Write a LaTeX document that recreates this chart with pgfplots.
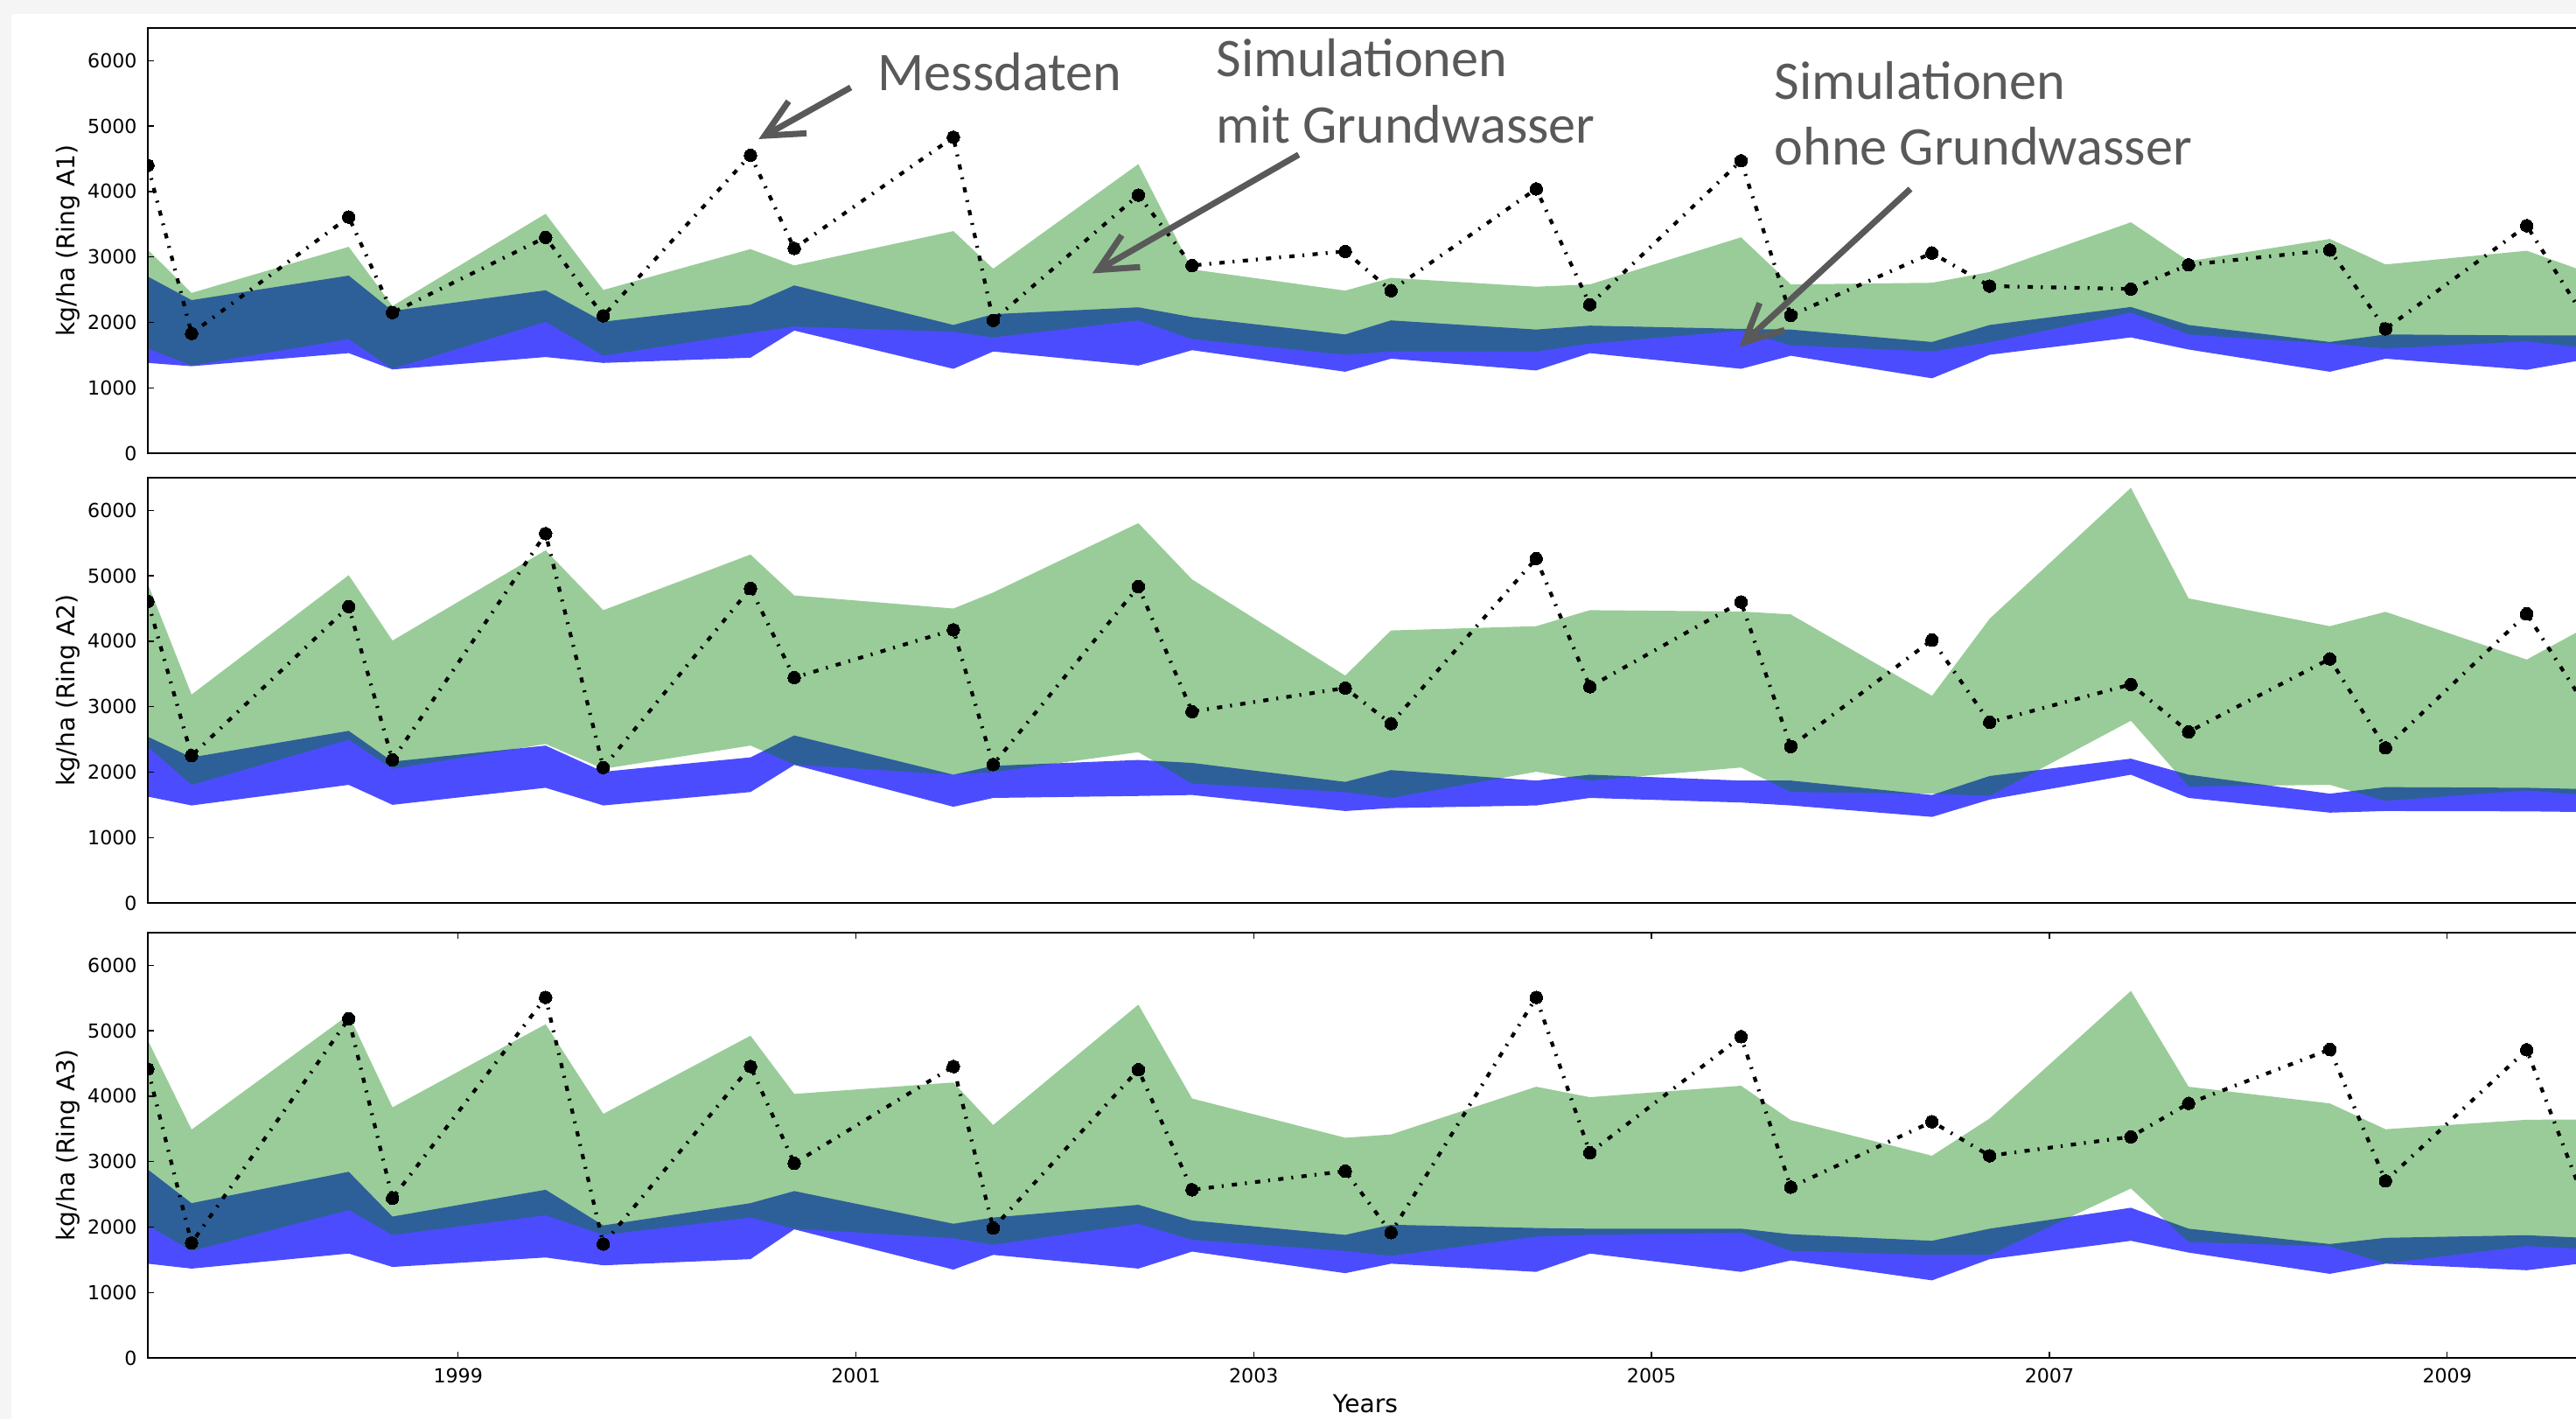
\documentclass[border=0pt]{standalone}
\usepackage{fontspec}
\setmainfont{DejaVu Sans}
\newfontfamily\carlito{Carlito}
\usepackage{pgfplots}
\pgfplotsset{compat=1.18}
\usepackage{pgfplotstable}
\usetikzlibrary{arrows.meta}

\definecolor{mplgreen}{rgb}{0,0.5,0}
\definecolor{mplblue}{rgb}{0,0,1}
\definecolor{annot}{HTML}{595959}

% measured data (Messdaten)
\pgfplotstableread{
x m
1997.44 4400
1997.66 1830
1998.45 3610
1998.67 2150
1999.44 3300
1999.73 2100
2000.47 4555
2000.69 3130
2001.49 4830
2001.69 2030
2002.42 3945
2002.69 2870
2003.46 3085
2003.69 2485
2004.42 4040
2004.69 2270
2005.45 4470
2005.70 2105
2006.41 3060
2006.70 2555
2007.41 2510
2007.70 2880
2008.41 3105
2008.69 1900
2009.40 3478
2009.69 2080
}\measA

\pgfplotstableread{
x m
1997.44 4610
1997.66 2250
1998.45 4530
1998.67 2185
1999.44 5645
1999.73 2070
2000.47 4810
2000.69 3445
2001.49 4175
2001.69 2115
2002.42 4835
2002.69 2925
2003.46 3285
2003.69 2740
2004.42 5265
2004.69 3305
2005.45 4600
2005.70 2390
2006.41 4020
2006.70 2760
2007.41 3340
2007.70 2615
2008.41 3730
2008.69 2370
2009.40 4420
2009.69 3040
}\measB

\pgfplotstableread{
x m
1997.44 4415
1997.66 1755
1998.45 5185
1998.67 2440
1999.44 5510
1999.73 1740
2000.47 4455
2000.69 2975
2001.49 4455
2001.69 1985
2002.42 4405
2002.69 2570
2003.46 2855
2003.69 1915
2004.42 5510
2004.69 3135
2005.45 4910
2005.70 2610
2006.41 3610
2006.70 3090
2007.41 3380
2007.70 3890
2008.41 4715
2008.69 2705
2009.40 4710
2009.69 2400
}\measC

\pgfplotsset{
  panel/.style={
    scale only axis, width=27.84cm, height=4.86cm,
    xmin=1997.44, xmax=2009.683, ymin=0, ymax=6500,
    ytick={0,1000,2000,3000,4000,5000,6000},
    tick align=inside,
    major tick length=0.07cm,
    every tick/.style={black, line width=0.4pt},
    axis line style={black, line width=0.8pt},
    tick label style={font=\fontsize{6.3}{7.5}\selectfont},
    /pgf/number format/1000 sep={},
    /pgf/number format/assume math mode=true,
    ylabel style={font=\fontsize{8}{9.6}\selectfont, at={(axis description cs:-0.03287,0.5)}, anchor=center},
    xlabel style={font=\fontsize{8}{9.6}\selectfont},
    axis on top,
    clip marker paths=true,
  },
  blueband/.style={fill=mplblue, fill opacity=0.7, draw=none, forget plot},
  greenband/.style={fill=mplgreen, fill opacity=0.4, draw=none, forget plot},
  meas/.style={black, line width=1.2pt, dash pattern=on 1.7pt off 2.6pt on 0.6pt off 2.7pt,
    mark=*, mark size=2.05pt, mark options={solid, fill=black, draw=black, line width=0pt}},
}

\begin{document}
\begin{tikzpicture}
\fill[black!4] (0,0) rectangle (29.45,16.22);
\fill[white] (0.13,0) rectangle (29.45,16.06);

% ---------------- Ring A1
\begin{axis}[panel, at={(1.69cm,11.04cm)}, anchor=south west, xtick=\empty,
  ylabel={kg/ha (Ring A1)}]
\addplot[blueband] coordinates {
(1997.44,2700) (1997.66,2340) (1998.45,2715) (1998.67,2175) (1999.44,2490) (1999.73,2010) (2000.47,2270) (2000.69,2565) (2001.49,1960) (2001.69,2125) (2002.42,2230) (2002.69,2080) (2003.46,1815) (2003.69,2030) (2004.42,1890) (2004.69,1950) (2005.45,1900) (2005.70,1890) (2006.41,1700) (2006.70,1960) (2007.41,2235) (2007.70,1960) (2008.41,1700) (2008.69,1815) (2009.40,1800) (2009.69,1800)
(2009.69,1430) (2009.40,1275) (2008.69,1445) (2008.41,1245) (2007.70,1585) (2007.41,1770) (2006.70,1505) (2006.41,1145) (2005.70,1490) (2005.45,1290) (2004.69,1530) (2004.42,1265) (2003.69,1445) (2003.46,1245) (2002.69,1575) (2002.42,1340) (2001.69,1555) (2001.49,1290) (2000.69,1875) (2000.47,1460) (1999.73,1380) (1999.44,1470) (1998.67,1280) (1998.45,1530) (1997.66,1330) (1997.44,1380)
} -- cycle;
\addplot[greenband] coordinates {
(1997.44,3110) (1997.66,2450) (1998.45,3155) (1998.67,2250) (1999.44,3660) (1999.73,2495) (2000.47,3120) (2000.69,2870) (2001.49,3395) (2001.69,2820) (2002.42,4420) (2002.69,2810) (2003.46,2485) (2003.69,2680) (2004.42,2545) (2004.69,2580) (2005.45,3300) (2005.70,2580) (2006.41,2605) (2006.70,2770) (2007.41,3530) (2007.70,2935) (2008.41,3275) (2008.69,2885) (2009.40,3095) (2009.69,2780)
(2009.69,1610) (2009.40,1710) (2008.69,1600) (2008.41,1675) (2007.70,1815) (2007.41,2150) (2006.70,1695) (2006.41,1555) (2005.70,1650) (2005.45,1875) (2004.69,1675) (2004.42,1555) (2003.69,1555) (2003.46,1505) (2002.69,1745) (2002.42,2030) (2001.69,1770) (2001.49,1855) (2000.69,1935) (2000.47,1840) (1999.73,1490) (1999.44,2010) (1998.67,1290) (1998.45,1745) (1997.66,1340) (1997.44,1600)
} -- cycle;
\addplot[meas] table[x=x,y=m]{\measA};
\end{axis}

% ---------------- Ring A2
\begin{axis}[panel, at={(1.69cm,5.90cm)}, anchor=south west, xtick=\empty,
  ylabel={kg/ha (Ring A2)}]
\addplot[blueband] coordinates {
(1997.44,2540) (1997.66,2225) (1998.45,2630) (1998.67,2160) (1999.44,2405) (1999.73,2005) (2000.47,2225) (2000.69,2560) (2001.49,1960) (2001.69,2095) (2002.42,2185) (2002.69,2140) (2003.46,1850) (2003.69,2030) (2004.42,1870) (2004.69,1960) (2005.45,1870) (2005.70,1870) (2006.41,1650) (2006.70,1940) (2007.41,2205) (2007.70,1960) (2008.41,1670) (2008.69,1770) (2009.40,1760) (2009.69,1740)
(2009.69,1390) (2009.40,1400) (2008.69,1405) (2008.41,1380) (2007.70,1605) (2007.41,1960) (2006.70,1580) (2006.41,1315) (2005.70,1490) (2005.45,1535) (2004.69,1605) (2004.42,1490) (2003.69,1450) (2003.46,1405) (2002.69,1650) (2002.42,1635) (2001.69,1605) (2001.49,1470) (2000.69,2110) (2000.47,1695) (1999.73,1490) (1999.44,1760) (1998.67,1500) (1998.45,1805) (1997.66,1490) (1997.44,1625)
} -- cycle;
\addplot[greenband] coordinates {
(1997.44,4880) (1997.66,3185) (1998.45,5010) (1998.67,4010) (1999.44,5390) (1999.73,4475) (2000.47,5325) (2000.69,4700) (2001.49,4500) (2001.69,4745) (2002.42,5805) (2002.69,4945) (2003.46,3475) (2003.69,4165) (2004.42,4230) (2004.69,4475) (2005.45,4455) (2005.70,4410) (2006.41,3165) (2006.70,4345) (2007.41,6345) (2007.70,4655) (2008.41,4230) (2008.69,4450) (2009.40,3720) (2009.69,4200)
(2009.69,1650) (2009.40,1720) (2008.69,1560) (2008.41,1805) (2007.70,1780) (2007.41,2785) (2006.70,1635) (2006.41,1670) (2005.70,1695) (2005.45,2070) (2004.69,1870) (2004.42,2005) (2003.69,1605) (2003.46,1695) (2002.69,1825) (2002.42,2305) (2001.69,2000) (2001.49,1960) (2000.69,2115) (2000.47,2405) (1999.73,2050) (1999.44,2430) (1998.67,2050) (1998.45,2495) (1997.66,1805) (1997.44,2385)
} -- cycle;
\addplot[meas] table[x=x,y=m]{\measB};
\end{axis}

% ---------------- Ring A3
\begin{axis}[panel, at={(1.69cm,0.70cm)}, anchor=south west,
  xtick={1999,2001,2003,2005,2007,2009},
  ylabel={kg/ha (Ring A3)}, xlabel={Years},
  xlabel style={at={(axis description cs:0.5,-0.1296)}, anchor=base}]
\addplot[blueband] coordinates {
(1997.44,2880) (1997.66,2365) (1998.45,2845) (1998.67,2160) (1999.44,2570) (1999.73,2025) (2000.47,2365) (2000.69,2550) (2001.49,2050) (2001.69,2145) (2002.42,2340) (2002.69,2100) (2003.46,1880) (2003.69,2035) (2004.42,1985) (2004.69,1975) (2005.45,1975) (2005.70,1890) (2006.41,1790) (2006.70,1975) (2007.41,2295) (2007.70,1975) (2008.41,1740) (2008.69,1835) (2009.40,1875) (2009.69,1835)
(2009.69,1450) (2009.40,1340) (2008.69,1440) (2008.41,1285) (2007.70,1610) (2007.41,1790) (2006.70,1510) (2006.41,1185) (2005.70,1490) (2005.45,1315) (2004.69,1595) (2004.42,1315) (2003.69,1440) (2003.46,1295) (2002.69,1625) (2002.42,1365) (2001.69,1575) (2001.49,1350) (2000.69,1965) (2000.47,1510) (1999.73,1415) (1999.44,1535) (1998.67,1390) (1998.45,1595) (1997.66,1365) (1997.44,1440)
} -- cycle;
\addplot[greenband] coordinates {
(1997.44,4855) (1997.66,3490) (1998.45,5245) (1998.67,3830) (1999.44,5100) (1999.73,3730) (2000.47,4925) (2000.69,4035) (2001.49,4210) (2001.69,3560) (2002.42,5400) (2002.69,3965) (2003.46,3365) (2003.69,3415) (2004.42,4145) (2004.69,3985) (2005.45,4160) (2005.70,3635) (2006.41,3090) (2006.70,3660) (2007.41,5610) (2007.70,4145) (2008.41,3890) (2008.69,3495) (2009.40,3640) (2009.69,3645)
(2009.69,1665) (2009.40,1710) (2008.69,1445) (2008.41,1705) (2007.70,1770) (2007.41,2590) (2006.70,1575) (2006.41,1575) (2005.70,1635) (2005.45,1915) (2004.69,1880) (2004.42,1855) (2003.69,1560) (2003.46,1635) (2002.69,1805) (2002.42,2050) (2001.69,1730) (2001.49,1830) (2000.69,1975) (2000.47,2145) (1999.73,1880) (1999.44,2180) (1998.67,1880) (1998.45,2260) (1997.66,1635) (1997.44,2025)
} -- cycle;
\addplot[meas] table[x=x,y=m]{\measC};
\end{axis}

% annotations
\begin{scope}[annot, font=\carlito\fontsize{17.7}{22}\selectfont]
\node[anchor=base west, inner sep=0pt] at (10.03,15.186) {Messdaten};
\node[anchor=base west, inner sep=0pt] at (13.90,15.345) {Simulationen};
\node[anchor=base west, inner sep=0pt] at (13.90,14.58) {mit Grundwasser};
\node[anchor=base west, inner sep=0pt] at (20.28,15.08) {Simulationen};
\node[anchor=base west, inner sep=0pt] at (20.28,14.33) {ohne Grundwasser};
\draw[line width=2pt, -{Straight Barb[length=4.3mm, width=4.2mm]}] (9.726,15.22) -- (8.673,14.63);
\draw[line width=2pt, -{Straight Barb[length=4.3mm, width=4.2mm]}] (14.847,14.452) -- (12.487,13.095);
\draw[line width=2pt, -{Straight Barb[length=4.3mm, width=4.2mm]}] (21.84,14.06) -- (19.884,12.256);
\end{scope}

\pgfresetboundingbox
\useasboundingbox (0,0) rectangle (29.45,16.22);
\end{tikzpicture}
\end{document}
